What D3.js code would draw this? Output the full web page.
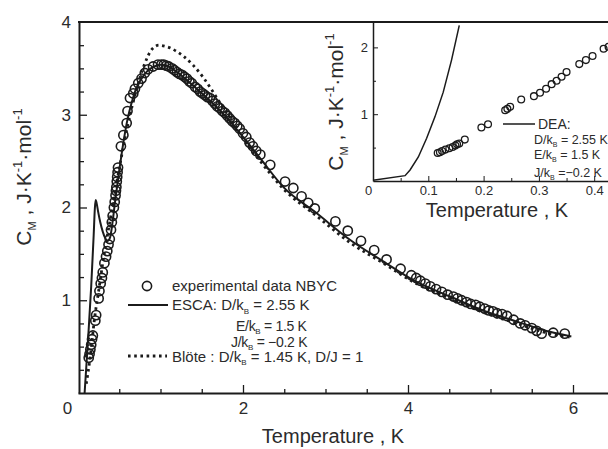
<!DOCTYPE html>
<html>
<head>
<meta charset="utf-8">
<script src="https://cdn.jsdelivr.net/npm/d3@7"></script>
<style>
  html, body { margin: 0; padding: 0; background: #fff; }
  svg { display: block; font-family: "Liberation Sans", Arial, Helvetica, sans-serif; }
</style>
</head>
<body>
<svg id="chart" width="608" height="449"></svg>
<script>
// ---- Magnetic specific heat of NBYC: measured points and model curves ----
const expT = [0.13,0.14,0.15,0.16,0.17,0.18,0.21,0.22,0.25,0.26,0.275,0.29,0.30,0.32,0.34,0.355,0.37,0.385,0.40,0.41,0.42,0.435,0.445,0.455,0.46,0.465,0.47,0.475,0.48,0.485,0.52,0.55,0.59,0.60,0.63,0.67,0.69,0.73,0.77,0.81,0.85,0.91,0.97,1.01,1.04,1.07,1.10,1.14,1.17,1.20,1.23,1.26,1.29,1.32,1.35,1.38,1.42,1.45,1.48,1.51,1.54,1.57,1.60,1.63,1.66,1.69,1.72,1.75,1.78,1.81,1.84,1.87,1.90,1.93,1.96,2.00,2.04,2.08,2.12,2.16,2.21,2.33,2.51,2.61,2.71,2.79,2.87,3.12,3.27,3.43,3.59,3.74,3.91,4.04,4.10,4.15,4.21,4.27,4.34,4.41,4.48,4.55,4.60,4.65,4.71,4.76,4.82,4.87,4.93,4.98,5.03,5.08,5.14,5.20,5.28,5.36,5.42,5.50,5.56,5.62,5.76,5.90];
const expC = [0.38,0.42,0.47,0.52,0.58,0.62,0.78,0.84,1.02,1.10,1.18,1.24,1.30,1.40,1.47,1.53,1.60,1.66,1.76,1.84,1.91,2.00,2.06,2.13,2.18,2.22,2.28,2.33,2.38,2.43,2.66,2.78,2.91,3.04,3.18,3.23,3.28,3.34,3.39,3.45,3.49,3.52,3.54,3.54,3.54,3.53,3.52,3.50,3.48,3.46,3.44,3.43,3.41,3.39,3.36,3.34,3.30,3.28,3.25,3.23,3.21,3.19,3.18,3.15,3.12,3.09,3.07,3.04,3.02,2.99,2.96,2.93,2.91,2.88,2.85,2.80,2.76,2.70,2.66,2.61,2.57,2.46,2.28,2.21,2.12,2.05,1.99,1.85,1.75,1.64,1.54,1.44,1.34,1.27,1.24,1.21,1.18,1.15,1.12,1.09,1.06,1.04,1.02,1.00,0.98,0.96,0.95,0.93,0.91,0.89,0.88,0.86,0.85,0.83,0.79,0.75,0.73,0.70,0.67,0.64,0.65,0.64];

// ESCA model: D/kB = 2.55 K, E/kB = 1.5 K, J/kB = -0.2 K
const escaT = [0.08,0.12,0.16,0.19,0.205,0.215,0.225,0.245,0.27,0.30,0.33,0.36,0.39,0.42,0.45,0.50,0.55,0.60,0.65,0.70,0.80,0.90,1.00,1.10,1.20,1.40,1.60,1.80,2.00,2.20,2.49,2.89,3.30,3.70,4.10,4.51,4.91,5.32,5.72,5.98];
const escaC = [0.00,0.55,1.15,1.70,2.00,2.08,2.05,1.95,1.84,1.74,1.67,1.64,1.68,1.85,2.07,2.40,2.70,2.95,3.13,3.27,3.43,3.51,3.54,3.52,3.46,3.31,3.15,2.97,2.76,2.54,2.22,1.94,1.65,1.42,1.20,1.04,0.89,0.77,0.66,0.61];

// Blöte model: D/kB = 1.45 K, D/J = 1
const bloteT = [0.10,0.15,0.20,0.25,0.30,0.40,0.50,0.60,0.70,0.80,0.90,0.98,1.05,1.12,1.20,1.28,1.40,1.52,1.62,1.72,1.85,2.00,2.20,2.49,2.89,3.30,3.70,4.10,4.51,4.91,5.32,5.72,5.98];
const bloteC = [0.10,0.40,0.80,1.10,1.40,1.92,2.42,2.88,3.24,3.53,3.71,3.75,3.74,3.72,3.68,3.63,3.53,3.40,3.27,3.13,2.96,2.74,2.51,2.20,1.91,1.62,1.40,1.18,1.02,0.87,0.75,0.64,0.60];

// Inset: low-temperature region with the DEA curve
const insetExpT = [0.117,0.121,0.125,0.131,0.138,0.144,0.149,0.152,0.156,0.166,0.196,0.208,0.239,0.243,0.248,0.268,0.291,0.302,0.313,0.323,0.332,0.341,0.350,0.373,0.385,0.397,0.417,0.426];
const insetExpC = [0.42,0.43,0.45,0.47,0.49,0.51,0.53,0.55,0.56,0.62,0.80,0.85,1.06,1.08,1.11,1.22,1.27,1.32,1.38,1.45,1.50,1.56,1.63,1.75,1.81,1.87,1.98,2.01];
const deaT = [0,0.058,0.067,0.082,0.097,0.112,0.127,0.142,0.156];
const deaC = [0.01,0.08,0.165,0.36,0.64,0.96,1.33,1.81,2.33];

// Tick values
const mainXTicks = [0, 2, 4, 6];
const mainYTicks = [1, 2, 3, 4];
const insetXTicks = [0, 0.1, 0.2, 0.3, 0.4];
const insetYTicks = [1, 2];

const ink = "#1b1b1b";
const textInk = "#2b2b2b";

const svg = d3.select("#chart");
svg.append("rect").attr("width", 608).attr("height", 449).attr("fill", "#fff");

// Writes a label made of plain, subscript and superscript runs
function rich(sel, parts, size) {
  let shift = 0;
  parts.forEach(p => {
    const target = p.sub ? size * 0.24 : p.sup ? -size * 0.42 : 0;
    sel.append("tspan")
      .attr("dy", target - shift)
      .style("font-size", (p.sub || p.sup) ? (p.small || size * 0.6) + "px" : size + "px")
      .text(p.t);
    shift = target;
  });
}

const cmLabel = [{t: "C"}, {t: "M", sub: true, small: 11}, {t: " ,   J·K"}, {t: "-1", sup: true, small: 13},
                 {t: "·mol"}, {t: "-1", sup: true, small: 13}];

// ---------------- main plot ----------------
const x = d3.scaleLinear().domain([0, 6.5]).range([78, 614.25]);
const y = d3.scaleLinear().domain([0, 4]).range([393, 22]);

svg.append("clipPath").attr("id", "mainClip")
  .append("rect").attr("x", 78).attr("y", 22).attr("width", 540).attr("height", 371);

const plot = svg.append("g").attr("clip-path", "url(#mainClip)");

const line = d3.line().curve(d3.curveMonotoneX);

plot.append("path")
  .attr("d", line(bloteT.map((t, i) => [x(t), y(bloteC[i])])))
  .attr("fill", "none").attr("stroke", ink).attr("stroke-width", 2.8)
  .attr("stroke-dasharray", "2.6,3.6");

plot.append("path")
  .attr("d", line(escaT.map((t, i) => [x(t), y(escaC[i])])))
  .attr("fill", "none").attr("stroke", ink).attr("stroke-width", 2);

svg.append("g").selectAll("circle")
  .data(expT.map((t, i) => [t, expC[i]]))
  .join("circle")
  .attr("cx", d => x(d[0])).attr("cy", d => y(d[1])).attr("r", 4.6)
  .attr("fill", "none").attr("stroke", ink).attr("stroke-width", 1.6);

// main axes: inward ticks
const xMinor = d3.range(0.5, 6.51, 0.5).filter(v => Math.abs(v % 2) > 1e-6);
svg.append("g").attr("transform", "translate(0,393)")
  .call(d3.axisBottom(x).tickValues(xMinor).tickSize(-4).tickFormat(""))
  .call(g => g.select(".domain").remove());
const xAxis = svg.append("g").attr("transform", "translate(0,393)")
  .call(d3.axisBottom(x).tickValues(mainXTicks).tickSizeInner(-8).tickSizeOuter(0).tickPadding(9).tickFormat(d3.format("d")));
xAxis.select(".domain").attr("stroke-width", 2);
xAxis.selectAll(".tick line").filter(d => d === 0).remove();
xAxis.selectAll(".tick text").attr("dx", d => d === 0 ? -11 : 0);

const yMinor = d3.range(0.25, 4, 0.25).filter(v => Math.abs(v - Math.round(v)) > 1e-6);
svg.append("g").attr("transform", "translate(79,0)")
  .call(d3.axisLeft(y).tickValues(yMinor).tickSize(-5).tickFormat(""))
  .call(g => g.select(".domain").remove());
const yAxis = svg.append("g").attr("transform", "translate(79,0)")
  .call(d3.axisLeft(y).tickValues(mainYTicks).tickSizeInner(-8).tickSizeOuter(0).tickPadding(8).tickFormat(d3.format("d")));
yAxis.select(".domain").attr("stroke-width", 2);
yAxis.selectAll(".tick line").filter(d => d === 4).remove();

[xAxis, yAxis].forEach(a => {
  a.selectAll(".tick text").style("font-size", "17px").attr("fill", textInk)
    .style("font-family", '"Liberation Sans", Arial, sans-serif');
  a.selectAll("line, path").attr("stroke", ink);
});
svg.selectAll(".tick line").attr("stroke", ink).attr("stroke-width", 1.3);

// top frame line
svg.append("line").attr("x1", 78).attr("x2", 608).attr("y1", 22).attr("y2", 22)
  .attr("stroke", ink).attr("stroke-width", 2);

// axis titles
const yTitle = svg.append("text")
  .attr("transform", "translate(31,177) rotate(-90)")
  .attr("text-anchor", "middle").attr("fill", textInk);
rich(yTitle, cmLabel, 21);

svg.append("text").attr("x", 333).attr("y", 443).attr("text-anchor", "middle")
  .attr("fill", textInk).style("font-size", "20px").text("Temperature , K");

// legend
const lg = svg.append("g").attr("fill", textInk).style("font-size", "15px");
lg.append("circle").attr("cx", 147).attr("cy", 286).attr("r", 4.6)
  .attr("fill", "none").attr("stroke", ink).attr("stroke-width", 1.6);
lg.append("text").attr("x", 172).attr("y", 291).text("experimental data NBYC");
lg.append("line").attr("x1", 128).attr("x2", 168).attr("y1", 305).attr("y2", 305)
  .attr("stroke", ink).attr("stroke-width", 2);
rich(lg.append("text").attr("x", 172).attr("y", 310),
  [{t: "ESCA: D/k"}, {t: "B", sub: true, small: 8}, {t: " = 2.55 K"}], 15);
rich(lg.append("text").attr("x", 236).attr("y", 331).style("letter-spacing", "-0.3px"),
  [{t: "E/k"}, {t: "B", sub: true, small: 8}, {t: " = 1.5 K"}], 14);
rich(lg.append("text").attr("x", 231).attr("y", 346.5).style("letter-spacing", "-0.3px"),
  [{t: "J/k"}, {t: "B", sub: true, small: 8}, {t: " = \u22120.2 K"}], 14);
lg.append("line").attr("x1", 128).attr("x2", 167).attr("y1", 356).attr("y2", 356)
  .attr("stroke", ink).attr("stroke-width", 2.8).attr("stroke-dasharray", "2.6,3.6");
rich(lg.append("text").attr("x", 172).attr("y", 361.5),
  [{t: "Blöte :  D/k"}, {t: "B", sub: true, small: 8}, {t: " = 1.45 K, D/J = 1"}], 15);

// ---------------- inset ----------------
const ix = d3.scaleLinear().domain([0, 0.45]).range([373, 373 + 553 * 0.45]);
const iy = d3.scaleLinear().domain([0, 2.38]).range([181, 22]);

svg.append("rect").attr("x", 374).attr("y", 23).attr("width", 240).attr("height", 157).attr("fill", "#fff");

svg.append("path")
  .attr("d", d3.line()(deaT.map((t, i) => [ix(t), iy(deaC[i])])))
  .attr("fill", "none").attr("stroke", ink).attr("stroke-width", 1.5);

svg.append("g").selectAll("circle")
  .data(insetExpT.map((t, i) => [t, insetExpC[i]]))
  .join("circle")
  .attr("cx", d => ix(d[0])).attr("cy", d => iy(d[1])).attr("r", 3.4)
  .attr("fill", "none").attr("stroke", ink).attr("stroke-width", 1.3);

const ixMinor = [0.05, 0.15, 0.25, 0.35];
svg.append("g").attr("transform", "translate(0,181)")
  .call(d3.axisBottom(ix).tickValues(ixMinor).tickSize(-3).tickFormat(""))
  .call(g => g.select(".domain").remove());
const ixAxis = svg.append("g").attr("transform", "translate(0,181)")
  .call(d3.axisBottom(ix).tickValues(insetXTicks).tickSizeInner(-5).tickSizeOuter(0).tickPadding(5)
    .tickFormat(d => d === 0 ? "0" : d3.format(".1f")(d)));
ixAxis.selectAll(".tick line").filter(d => d === 0).remove();
ixAxis.selectAll(".tick text").attr("dx", d => d === 0 ? -5 : 0);

svg.append("g").attr("transform", "translate(373,0)")
  .call(d3.axisLeft(iy).tickValues([0.5, 1.5]).tickSize(-3).tickFormat(""))
  .call(g => g.select(".domain").remove());
const iyAxis = svg.append("g").attr("transform", "translate(373,0)")
  .call(d3.axisLeft(iy).tickValues(insetYTicks).tickSizeInner(-5).tickSizeOuter(0).tickPadding(5).tickFormat(d3.format("d")));

[ixAxis, iyAxis].forEach(a => {
  a.select(".domain").attr("stroke", ink).attr("stroke-width", 1.5);
  a.selectAll(".tick text").style("font-size", "13px").attr("fill", textInk)
    .style("font-family", '"Liberation Sans", Arial, sans-serif');
});
svg.selectAll(".tick line").attr("stroke", ink);

const iyTitle = svg.append("text")
  .attr("transform", "translate(343,102) rotate(-90)")
  .attr("text-anchor", "middle").attr("fill", textInk);
rich(iyTitle, cmLabel, 21);

svg.append("text").attr("x", 497).attr("y", 217).attr("text-anchor", "middle")
  .attr("fill", textInk).style("font-size", "20px").text("Temperature , K");

// inset legend
const ilg = svg.append("g").attr("fill", textInk).style("font-size", "12px");
ilg.append("line").attr("x1", 503).attr("x2", 535).attr("y1", 124).attr("y2", 124)
  .attr("stroke", ink).attr("stroke-width", 1.5);
ilg.append("text").attr("x", 538).attr("y", 129).style("font-size", "14px").text("DEA:");
rich(ilg.append("text").attr("x", 534).attr("y", 144),
  [{t: "D/k"}, {t: "B", sub: true, small: 7}, {t: " = 2.55 K"}], 12.5);
rich(ilg.append("text").attr("x", 534).attr("y", 159),
  [{t: "E/k"}, {t: "B", sub: true, small: 7}, {t: " = 1.5 K"}], 12.5);
rich(ilg.append("text").attr("x", 534).attr("y", 177),
  [{t: "J/k"}, {t: "B", sub: true, small: 7}, {t: " =\u22120.2 K"}], 12.5);
</script>
</body>
</html>
